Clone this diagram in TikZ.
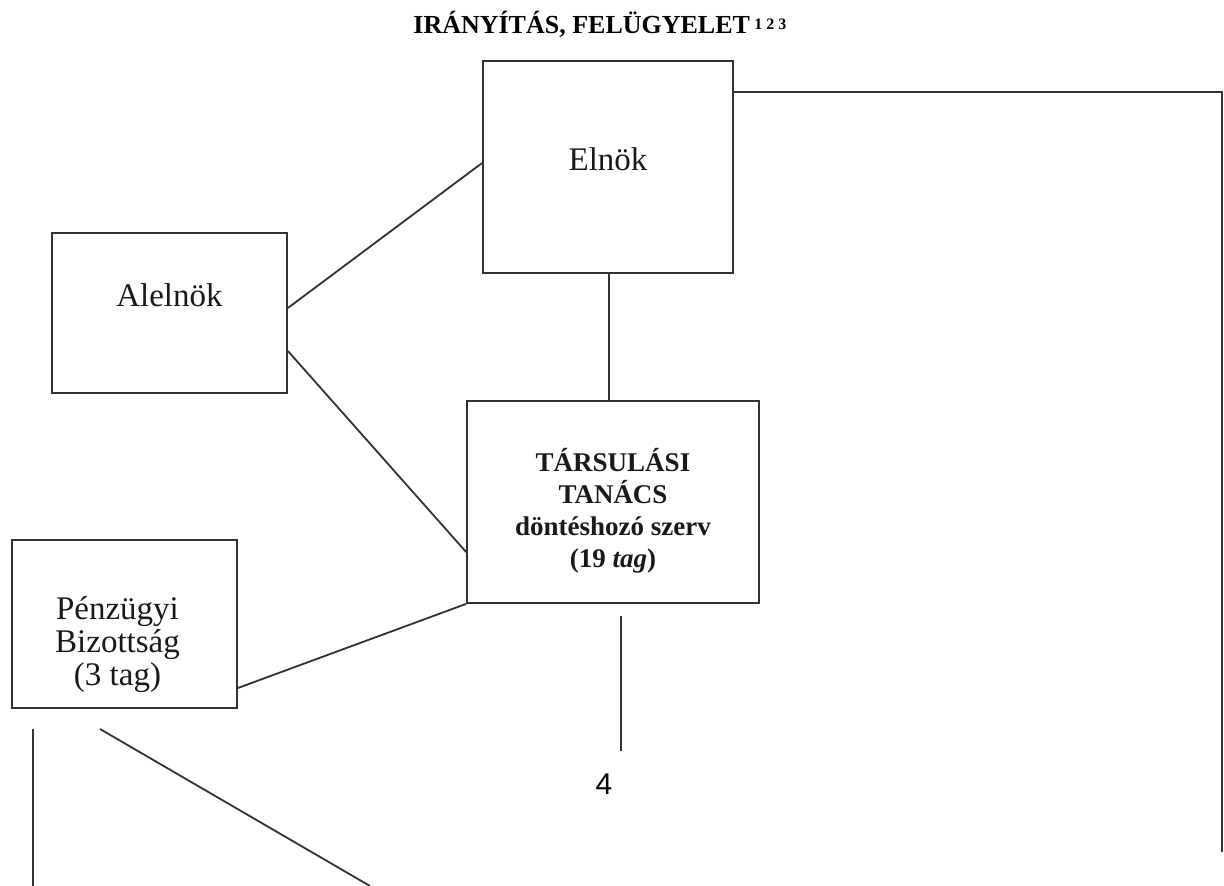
\documentclass[tikz,border=0pt]{standalone}
\usepackage{fontspec}
\setmainfont{Liberation Serif}
\newfontfamily\szamfont{Liberation Sans}
\usepackage{tikz}
\usetikzlibrary{positioning}
\definecolor{vonalszin}{RGB}{50,50,50}
\tikzstyle{doboz} = [draw=vonalszin, line width=0.9pt, inner sep=0pt]
\tikzstyle{felirat} = [font=\fontsize{16.5}{16.5}\selectfont, align=center, text=black!90]
\tikzstyle{vonal} = [draw=vonalszin, line width=0.9pt]

\begin{document}
\begin{tikzpicture}[x=0.5pt, y=-0.5pt]
\useasboundingbox (0,0) rectangle (1224,886);

% Title
\node[anchor=base west, inner sep=0pt, font=\bfseries\fontsize{13}{16}\selectfont] (cim) at (413,34) {IRÁNYÍTÁS, FELÜGYELET\,\raisebox{2pt}{\fontsize{8}{8}\selectfont 1 2 3}};

% Boxes
\node[doboz, minimum width=125pt, minimum height=106pt, label={[felirat, yshift=4pt]center:Elnök}] (elnok) at (608,167) {};
\node[doboz, minimum width=117.5pt, minimum height=80pt, label={[felirat, yshift=9pt]center:Alelnök}] (alelnok) at (169.5,313) {};
\node[doboz, minimum width=146pt, minimum height=101pt, label={[felirat, font=\bfseries\fontsize{13.5}{16}\selectfont, yshift=-4.5pt]center:TÁRSULÁSI\\TANÁCS\\döntéshozó szerv\\(19 \textit{tag})}] (tanacs) at (613,502) {};
\node[doboz, minimum width=112.5pt, minimum height=84pt, label={[felirat, xshift=-3.5pt, yshift=-10.5pt]center:Pénzügyi\\Bizottság\\(3 tag)}] (penz) at (124.5,624) {};
\node[font=\szamfont\fontsize{15}{18}\selectfont] (negy) at (604,784) {4};

% Free line ends
\coordinate (negyfent) at (621,616);
\coordinate (negyalul) at (621,751);
\coordinate (jobbveg) at (1222,852);
\coordinate (balfent) at (33,729);
\coordinate (balalul) at (33,886);
\coordinate (ferdefent) at (100,729);
\coordinate (ferdealul) at (370,886);

% Lines
\draw[vonal] ([yshift=2.5pt]alelnok.east) -- ([yshift=2pt]elnok.west);
\draw[vonal] ([yshift=-19pt]alelnok.east) -- ([yshift=-25pt]tanacs.west);
\draw[vonal] ([xshift=0.5pt]elnok.south) -- ([xshift=0.5pt]elnok.south |- tanacs.north);
\draw[vonal] (tanacs.south west) -- ([yshift=-32pt]penz.east);
\draw[vonal] ([yshift=-16pt]elnok.north east) -| (jobbveg);
\draw[vonal] (negyfent) -- (negyalul);
\draw[vonal] (balfent) -- (balalul);
\draw[vonal] (ferdefent) -- (ferdealul);
\end{tikzpicture}
\end{document}
